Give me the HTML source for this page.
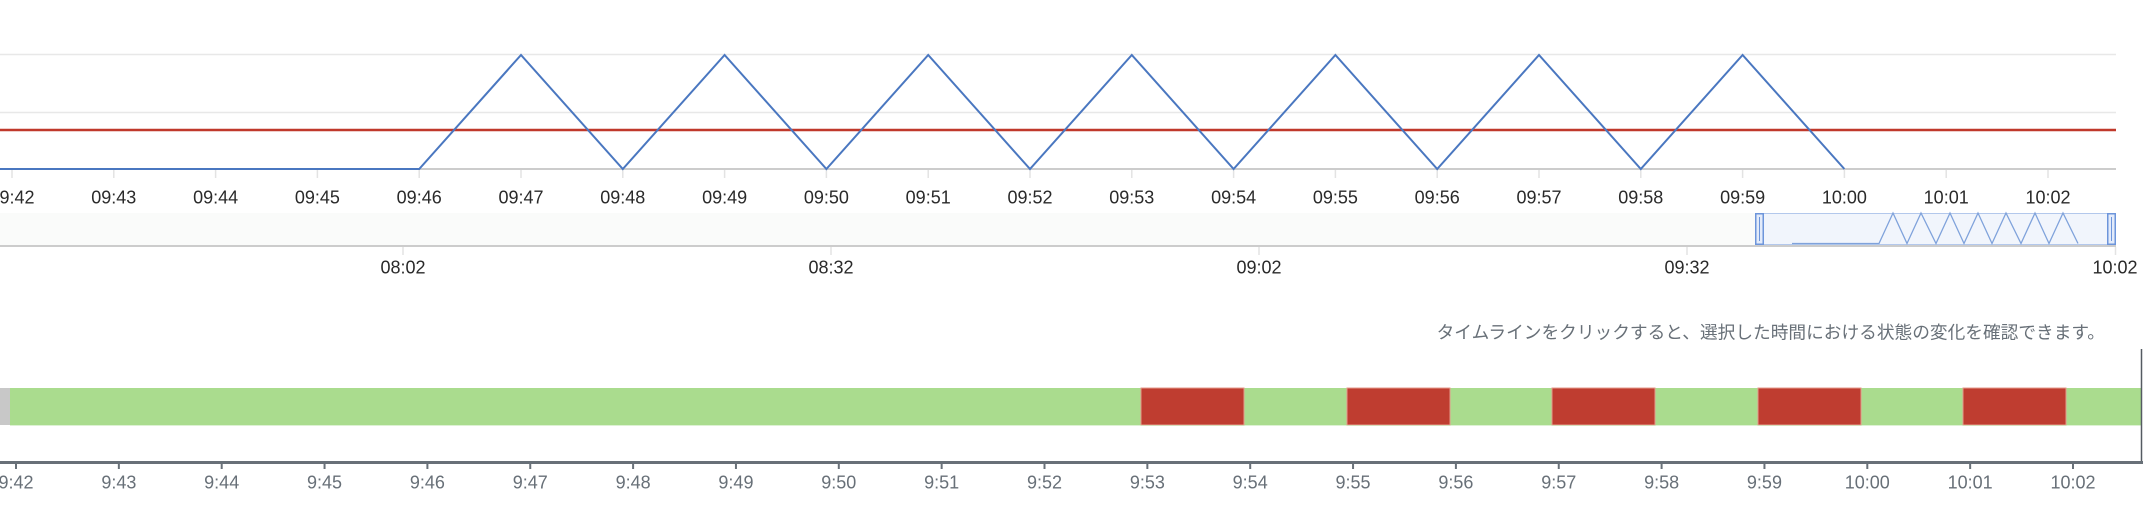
<!DOCTYPE html>
<html><head><meta charset="utf-8"><style>
html,body{margin:0;padding:0;background:#fff;width:2150px;height:529px;overflow:hidden}
svg{display:block}
.t{font-family:"Liberation Sans",sans-serif;font-size:18px;fill:#2a2a2a;text-anchor:middle}
.tl{font-family:"Liberation Sans",sans-serif;font-size:18px;fill:#687078;text-anchor:middle}
.jp{font-family:"Liberation Sans","Noto Sans CJK JP",sans-serif;font-size:17.7px;fill:#687078;text-anchor:end}
</style></head><body>
<svg width="2150" height="529" viewBox="0 0 2150 529" xmlns="http://www.w3.org/2000/svg">
<!-- top chart grid -->
<line x1="0" y1="54.5" x2="2116" y2="54.5" stroke="#e8e8e8" stroke-width="1.5"/>
<line x1="0" y1="112.5" x2="2116" y2="112.5" stroke="#e8e8e8" stroke-width="1.5"/>
<line x1="0" y1="169" x2="2116" y2="169" stroke="#cccccc" stroke-width="2"/>
<g stroke="#e3e3e3" stroke-width="1.5">
<line x1="12" y1="170" x2="12" y2="178"/><line x1="113.8" y1="170" x2="113.8" y2="178"/><line x1="215.6" y1="170" x2="215.6" y2="178"/><line x1="317.4" y1="170" x2="317.4" y2="178"/><line x1="419.2" y1="170" x2="419.2" y2="178"/><line x1="521" y1="170" x2="521" y2="178"/><line x1="622.8" y1="170" x2="622.8" y2="178"/><line x1="724.6" y1="170" x2="724.6" y2="178"/><line x1="826.4" y1="170" x2="826.4" y2="178"/><line x1="928.2" y1="170" x2="928.2" y2="178"/><line x1="1030" y1="170" x2="1030" y2="178"/><line x1="1131.8" y1="170" x2="1131.8" y2="178"/><line x1="1233.6" y1="170" x2="1233.6" y2="178"/><line x1="1335.4" y1="170" x2="1335.4" y2="178"/><line x1="1437.2" y1="170" x2="1437.2" y2="178"/><line x1="1539" y1="170" x2="1539" y2="178"/><line x1="1640.8" y1="170" x2="1640.8" y2="178"/><line x1="1742.6" y1="170" x2="1742.6" y2="178"/><line x1="1844.4" y1="170" x2="1844.4" y2="178"/><line x1="1946.2" y1="170" x2="1946.2" y2="178"/><line x1="2048" y1="170" x2="2048" y2="178"/>
</g>
<!-- threshold -->
<line x1="0" y1="130" x2="2116" y2="130" stroke="#c0392b" stroke-width="2.5"/>
<!-- series -->
<polyline fill="none" stroke="#4a77c0" stroke-width="2" stroke-linejoin="miter" points="0,169 419.2,169 521,55 622.8,169 724.6,55 826.4,169 928.2,55 1030,169 1131.8,55 1233.6,169 1335.4,55 1437.2,169 1539,55 1640.8,169 1742.6,55 1844.4,169"/>
<!-- top labels -->
<g class="t">
<text x="12" y="203.5">09:42</text><text x="113.8" y="203.5">09:43</text><text x="215.6" y="203.5">09:44</text><text x="317.4" y="203.5">09:45</text><text x="419.2" y="203.5">09:46</text><text x="521" y="203.5">09:47</text><text x="622.8" y="203.5">09:48</text><text x="724.6" y="203.5">09:49</text><text x="826.4" y="203.5">09:50</text><text x="928.2" y="203.5">09:51</text><text x="1030" y="203.5">09:52</text><text x="1131.8" y="203.5">09:53</text><text x="1233.6" y="203.5">09:54</text><text x="1335.4" y="203.5">09:55</text><text x="1437.2" y="203.5">09:56</text><text x="1539" y="203.5">09:57</text><text x="1640.8" y="203.5">09:58</text><text x="1742.6" y="203.5">09:59</text><text x="1844.4" y="203.5">10:00</text><text x="1946.2" y="203.5">10:01</text><text x="2048" y="203.5">10:02</text>
</g>
<!-- navigator -->
<rect x="0" y="213" width="2116" height="32" fill="#fafbfa"/>
<rect x="1759" y="213.5" width="353" height="31" fill="#f1f5fc" stroke="#b3c8ec" stroke-width="1"/>
<polyline fill="none" stroke="#7fa2db" stroke-width="1.3" points="1792,243.5 1879,243.5 1893,213 1907,243.5 1921,213 1936,243.5 1950,213 1964,243.5 1978,213 1992,243.5 2006,213 2021,243.5 2035,213 2049,243.5 2063,213 2078,243.5"/>
<line x1="0" y1="246" x2="2116" y2="246" stroke="#cccccc" stroke-width="2"/>
<g stroke="#e3e3e3" stroke-width="1.5">
<line x1="403" y1="247" x2="403" y2="255"/><line x1="831" y1="247" x2="831" y2="255"/><line x1="1259" y1="247" x2="1259" y2="255"/><line x1="1687" y1="247" x2="1687" y2="255"/><line x1="2115.5" y1="247" x2="2115.5" y2="255"/>
</g>
<g>
<rect x="1755.75" y="213.75" width="7.5" height="30.5" fill="#e3ebfa" stroke="#6d95db" stroke-width="1.5"/>
<line x1="1759.5" y1="217" x2="1759.5" y2="241" stroke="#6d95db" stroke-width="1"/>
<rect x="2107.75" y="213.75" width="7.5" height="30.5" fill="#e3ebfa" stroke="#6d95db" stroke-width="1.5"/>
<line x1="2111.5" y1="217" x2="2111.5" y2="241" stroke="#6d95db" stroke-width="1"/>
</g>
<g class="t">
<text x="403" y="273.5">08:02</text><text x="831" y="273.5">08:32</text><text x="1259" y="273.5">09:02</text><text x="1687" y="273.5">09:32</text><text x="2115" y="273.5">10:02</text>
</g>
<!-- timeline caption -->
<text class="jp" x="2105" y="338.5">タイムラインをクリックすると、選択した時間における状態の変化を確認できます。</text>
<!-- timeline bar -->
<rect x="0" y="388" width="10" height="37" fill="#c8c8c8"/>
<rect x="10" y="388" width="2131" height="37" fill="#aadc8e"/>
<g fill="#bf3d30" stroke="#e69a8c" stroke-width="1">
<rect x="1141" y="388" width="103" height="37"/>
<rect x="1347" y="388" width="103" height="37"/>
<rect x="1552" y="388" width="103" height="37"/>
<rect x="1758" y="388" width="103" height="37"/>
<rect x="1963" y="388" width="103" height="37"/>
</g>
<line x1="10" y1="425.5" x2="2141" y2="425.5" stroke="#c8ebb6" stroke-width="1" opacity="0.6"/>
<line x1="2141.5" y1="349" x2="2141.5" y2="463" stroke="#555b62" stroke-width="1.5"/>
<line x1="0" y1="462.5" x2="2143" y2="462.5" stroke="#687078" stroke-width="3"/>
<g stroke="#687078" stroke-width="2">
<line x1="16" y1="463" x2="16" y2="469"/><line x1="118.85" y1="463" x2="118.85" y2="469"/><line x1="221.7" y1="463" x2="221.7" y2="469"/><line x1="324.55" y1="463" x2="324.55" y2="469"/><line x1="427.4" y1="463" x2="427.4" y2="469"/><line x1="530.25" y1="463" x2="530.25" y2="469"/><line x1="633.1" y1="463" x2="633.1" y2="469"/><line x1="735.95" y1="463" x2="735.95" y2="469"/><line x1="838.8" y1="463" x2="838.8" y2="469"/><line x1="941.65" y1="463" x2="941.65" y2="469"/><line x1="1044.5" y1="463" x2="1044.5" y2="469"/><line x1="1147.35" y1="463" x2="1147.35" y2="469"/><line x1="1250.2" y1="463" x2="1250.2" y2="469"/><line x1="1353.05" y1="463" x2="1353.05" y2="469"/><line x1="1455.9" y1="463" x2="1455.9" y2="469"/><line x1="1558.75" y1="463" x2="1558.75" y2="469"/><line x1="1661.6" y1="463" x2="1661.6" y2="469"/><line x1="1764.45" y1="463" x2="1764.45" y2="469"/><line x1="1867.3" y1="463" x2="1867.3" y2="469"/><line x1="1970.15" y1="463" x2="1970.15" y2="469"/><line x1="2073" y1="463" x2="2073" y2="469"/>
</g>
<g class="tl">
<text x="16" y="488.5">9:42</text><text x="118.85" y="488.5">9:43</text><text x="221.7" y="488.5">9:44</text><text x="324.55" y="488.5">9:45</text><text x="427.4" y="488.5">9:46</text><text x="530.25" y="488.5">9:47</text><text x="633.1" y="488.5">9:48</text><text x="735.95" y="488.5">9:49</text><text x="838.8" y="488.5">9:50</text><text x="941.65" y="488.5">9:51</text><text x="1044.5" y="488.5">9:52</text><text x="1147.35" y="488.5">9:53</text><text x="1250.2" y="488.5">9:54</text><text x="1353.05" y="488.5">9:55</text><text x="1455.9" y="488.5">9:56</text><text x="1558.75" y="488.5">9:57</text><text x="1661.6" y="488.5">9:58</text><text x="1764.45" y="488.5">9:59</text><text x="1867.3" y="488.5">10:00</text><text x="1970.15" y="488.5">10:01</text><text x="2073" y="488.5">10:02</text>
</g>
</svg>
</body></html>
